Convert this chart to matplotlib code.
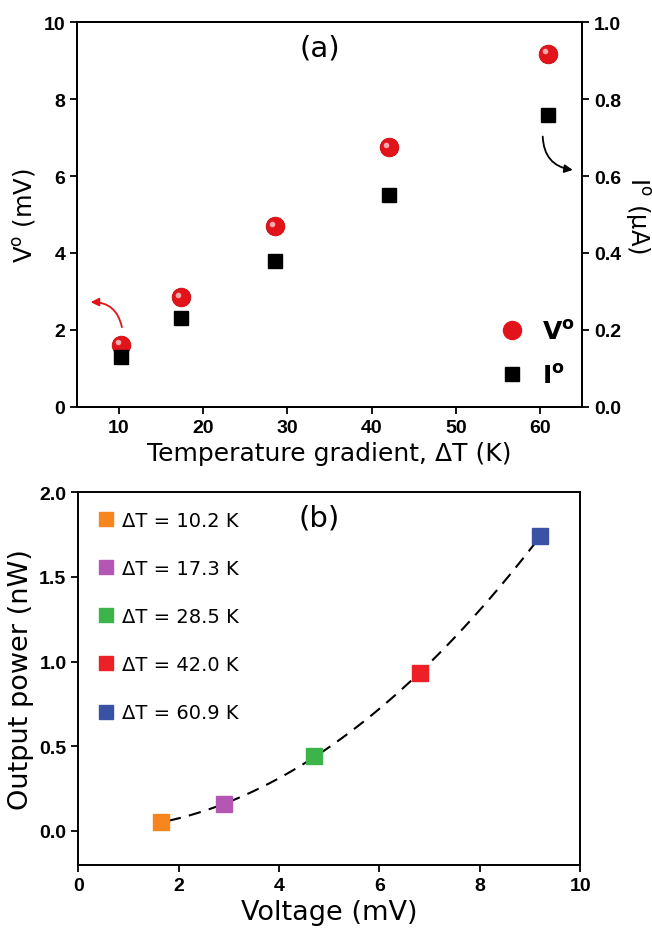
import numpy as np
import matplotlib.pyplot as plt
from matplotlib.lines import Line2D
from matplotlib.transforms import ScaledTranslation

# data
dT = [10.2, 17.3, 28.5, 42.0, 60.9]
V0 = [1.62, 2.85, 4.70, 6.75, 9.18]      # mV
I0 = [0.13, 0.23, 0.38, 0.55, 0.76]      # uA
volt = [1.65, 2.90, 4.70, 6.80, 9.20]    # mV
power = [0.05, 0.16, 0.44, 0.93, 1.74]   # nW
pcolors = ['#f7861f', '#b456b4', '#3cb44a', '#ee2027', '#3a52a3']

tickfont = dict(family=['Liberation Sans Narrow', 'Liberation Sans', 'DejaVu Sans'], weight='bold', size=14)
labfont = ['DejaVu Sans']

fig = plt.figure(figsize=(6.52, 9.29), dpi=100)

# ---- panel (a)
ax1 = fig.add_axes([0.118, 0.561, 0.775, 0.414])
ax2 = ax1.twinx()

ax1.plot(dT, V0, 'o', color='#e3131b', ms=13.5, mec='#c00000', mew=0.5, zorder=3)
ax1.plot(dT, V0, 'o', color='#ffd0d0', ms=4, alpha=0.8, mew=0, zorder=4,
         transform=ax1.transData + ScaledTranslation(-0.025, 0.025, fig.dpi_scale_trans))
ax2.plot(dT, I0, 's', color='black', ms=10)

ax1.set_xlim(5, 65)
ax1.set_ylim(0, 10)
ax2.set_ylim(0, 1.0)
ax1.set_xticks([10, 20, 30, 40, 50, 60])
ax1.set_yticks([0, 2, 4, 6, 8, 10])
ax2.set_yticks([0, 0.2, 0.4, 0.6, 0.8, 1.0])
ax2.set_yticklabels(['0.0', '0.2', '0.4', '0.6', '0.8', '1.0'])

ax1.set_xlabel('Temperature gradient, ΔT (K)', family=labfont, size=18)
ax1.set_ylabel('V$^{\\rm o}$ (mV)', family=labfont, size=17.5)
ax2.set_ylabel('I$^{\\rm o}$ (μA)', family=labfont, size=17.5, rotation=270, labelpad=22)
ax1.text(0.48, 0.935, '(a)', transform=ax1.transAxes, ha='center', va='center',
         family=labfont, size=21)

ax1.annotate('', xy=(6.3, 2.72), xytext=(10.4, 2.0),
             arrowprops=dict(arrowstyle='-|>', color='#e3131b', lw=1.3,
                             connectionstyle='arc3,rad=0.45', mutation_scale=12))
ax2.annotate('', xy=(64.2, 0.615), xytext=(60.3, 0.71),
             arrowprops=dict(arrowstyle='-|>', color='black', lw=1.3,
                             connectionstyle='arc3,rad=0.45', mutation_scale=12))

h1 = Line2D([], [], marker='o', ls='', color='#e3131b', ms=13)
h2 = Line2D([], [], marker='s', ls='', color='black', ms=10)
leg = ax1.legend([h1, h2], ['V$^{\\bf o}$', 'I$^{\\bf o}$'], loc='lower right',
                 bbox_to_anchor=(1.03, -0.01), frameon=False, labelspacing=0.8,
                 handletextpad=0.2, prop=dict(family='DejaVu Sans', weight='bold', size=18))

for a in (ax1, ax2):
    for s in a.spines.values():
        s.set_linewidth(1.4)
    a.tick_params(direction='out', length=5, width=1.3)
    for lab in a.get_xticklabels() + a.get_yticklabels():
        lab.set_fontproperties(tickfont)

# ---- panel (b)
ax3 = fig.add_axes([0.12, 0.068, 0.77, 0.401])
c = np.polyfit(volt, power, 2)
xf = np.linspace(1.8, 9.1, 100)
ax3.plot(xf, np.polyval(c, xf), '--', color='black', lw=1.5, dashes=(6, 4))
for v, p, col, t in zip(volt, power, pcolors, dT):
    ax3.plot(v, p, 's', color=col, ms=11.5, label='ΔT = %.1f K' % t, zorder=3)

ax3.set_xlim(0, 10)
ax3.set_ylim(-0.2, 2.0)
ax3.set_xticks([0, 2, 4, 6, 8, 10])
ax3.set_yticks([0.0, 0.5, 1.0, 1.5, 2.0])
ax3.set_yticklabels(['0.0', '0.5', '1.0', '1.5', '2.0'])
ax3.set_xlabel('Voltage (mV)', family=labfont, size=19.5)
ax3.set_ylabel('Output power (nW)', family=labfont, size=19.5)
ax3.text(0.48, 0.933, '(b)', transform=ax3.transAxes, ha='center', va='center',
         family=labfont, size=21)
ax3.legend(loc='upper left', frameon=False, labelspacing=1.5, handletextpad=0.3,
           handlelength=1.0, borderaxespad=0.5, borderpad=0.45, markerscale=0.9,
           prop=dict(family='DejaVu Sans', size=14))
for s in ax3.spines.values():
    s.set_linewidth(1.4)
ax3.tick_params(direction='out', length=5, width=1.3)
for lab in ax3.get_xticklabels() + ax3.get_yticklabels():
    lab.set_fontproperties(tickfont)

fig.savefig('out.png', dpi=100)
